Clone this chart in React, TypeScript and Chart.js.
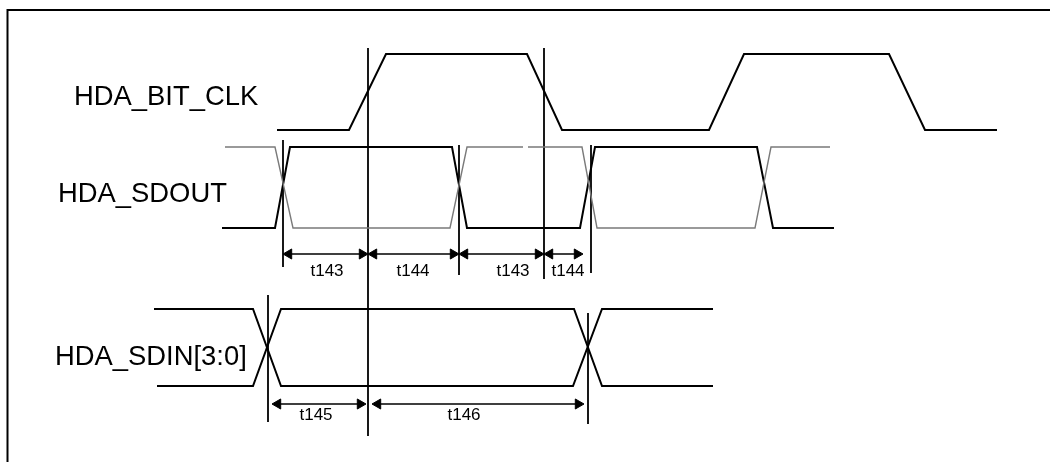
import React, { useEffect, useRef } from "react";
import { Chart, registerables } from "chart.js";

Chart.register(...registerables);

// Horizontal axis: time in diagram units; vertical axis: diagram rows.
const rowHigh = { clk: 54, sdout: 147, sdin: 309 };
const rowLow = { clk: 130, sdout: 228, sdin: 386 };

// HDA_BIT_CLK
const clkTimes = [277, 349, 386, 527, 562, 709, 744, 889, 925, 997];
const clkLevels = [0, 0, 1, 1, 0, 0, 1, 1, 0, 0];

// HDA_SDOUT (driven data, bold)
const sdoutTimes = [222, 275, 290, 452, 467, 580, 595, 757, 773, 834];
const sdoutLevels = [0, 0, 1, 1, 0, 0, 1, 1, 0, 0];

// HDA_SDOUT (complement, thin grey)
const sdoutBarTimes = [225, 275, 293, 450, 467, 523, 525.5, 528, 582, 597, 755, 771, 830];
const sdoutBarLevels = [1, 1, 0, 0, 1, 1, null, 1, 1, 0, 0, 1, 1];

// HDA_SDIN[3:0] (two crossing lines)
const sdinATimes = [154, 253, 281, 573, 602, 713];
const sdinALevels = [1, 1, 0, 0, 1, 1];
const sdinBTimes = [157, 253, 281, 574, 602, 713];
const sdinBLevels = [0, 0, 1, 1, 0, 0];

// Reference (vertical) lines
const markerX = [368, 544, 283, 459, 591, 268, 588];
const markerTop = [48, 48, 140, 145, 145, 295, 313];
const markerBottom = [436, 279, 267, 275, 273, 422, 424];

// Timing arrows
const arrowFrom = [283, 368, 459, 544, 272, 372];
const arrowTo = [368, 459, 544, 583, 366, 584];
const arrowY = [254, 254, 254, 254, 404, 404];

// Timing labels
const timingLabels = ["t143", "t144", "t143", "t144", "t145", "t146"];
const timingLabelX = [327, 413, 513, 568, 316, 464];
const timingLabelY = [276, 276, 276, 276, 420, 420];

// Signal names
const signalNames = ["HDA_BIT_CLK", "HDA_SDOUT", "HDA_SDIN[3:0]"];
const signalNameX = [74, 58, 55];
const signalNameY = [105, 202, 365];

// Frame (top and left edges)
const frameX = [1050, 7.5, 7.5];
const frameY = [10, 10, 462];

const HEAD_R = 5.8;

function wave(times: number[], levels: (number | null)[], hi: number, lo: number) {
  return times.map((t, i) => ({
    x: t,
    y: levels[i] === null ? null : levels[i] ? hi : lo,
  }));
}

export default function App() {
  const ref = useRef<HTMLCanvasElement | null>(null);

  useEffect(() => {
    document.body.style.margin = "0";
    const canvas = ref.current;
    if (!canvas) return;

    const markers: any[] = [];
    markerX.forEach((x, i) => {
      markers.push({ x, y: markerTop[i] });
      markers.push({ x, y: markerBottom[i] });
      markers.push({ x, y: null });
    });

    const shafts: any[] = [];
    const heads: any[] = [];
    const headRot: number[] = [];
    arrowFrom.forEach((a, i) => {
      const b = arrowTo[i];
      const y = arrowY[i];
      shafts.push({ x: a + HEAD_R, y });
      shafts.push({ x: b - HEAD_R, y });
      shafts.push({ x: b, y: null });
      heads.push({ x: a + HEAD_R, y });
      headRot.push(270);
      heads.push({ x: b - HEAD_R, y });
      headRot.push(90);
    });

    const lineDs = (data: any[], color: string, width: number) => ({
      type: "line" as const,
      data,
      borderColor: color,
      borderWidth: width,
      pointRadius: 0,
      pointHoverRadius: 0,
      showLine: true,
      spanGaps: false,
      tension: 0,
      clip: false as any,
      fill: false,
    });

    const textPlugin = {
      id: "timingText",
      afterDatasetsDraw(chart: any) {
        const ctx = chart.ctx;
        const xs = chart.scales.x;
        const ys = chart.scales.y;
        ctx.save();
        ctx.fillStyle = "#000";
        ctx.textBaseline = "alphabetic";
        ctx.font = '27.4px "Liberation Sans", Arial, sans-serif';
        ctx.textAlign = "left";
        signalNames.forEach((s, i) => {
          ctx.fillText(s, xs.getPixelForValue(signalNameX[i]), ys.getPixelForValue(signalNameY[i]));
        });
        ctx.font = '17px "Liberation Sans", Arial, sans-serif';
        ctx.textAlign = "center";
        timingLabels.forEach((s, i) => {
          ctx.fillText(s, xs.getPixelForValue(timingLabelX[i]), ys.getPixelForValue(timingLabelY[i]));
        });
        ctx.restore();
      },
    };

    const chart = new Chart(canvas, {
      type: "scatter",
      data: {
        datasets: [
          lineDs(frameX.map((x, i) => ({ x, y: frameY[i] })), "#000", 2),
          lineDs(wave(clkTimes, clkLevels, rowHigh.clk, rowLow.clk), "#000", 2),
          lineDs(wave(sdoutBarTimes, sdoutBarLevels, rowHigh.sdout, rowLow.sdout), "#7a7a7a", 1.4),
          lineDs(wave(sdoutTimes, sdoutLevels, rowHigh.sdout, rowLow.sdout), "#000", 2),
          lineDs(wave(sdinATimes, sdinALevels, rowHigh.sdin, rowLow.sdin), "#000", 2),
          lineDs(wave(sdinBTimes, sdinBLevels, rowHigh.sdin, rowLow.sdin), "#000", 2),
          lineDs(markers, "#000", 1.8),
          lineDs(shafts, "#000", 1.4),
          {
            type: "scatter" as const,
            data: heads,
            pointStyle: "triangle",
            pointRadius: HEAD_R,
            pointHoverRadius: HEAD_R,
            pointRotation: headRot,
            backgroundColor: "#000",
            borderColor: "#000",
            borderWidth: 1,
            showLine: false,
            clip: false as any,
          } as any,
        ],
      },
      options: {
        animation: false,
        responsive: false,
        maintainAspectRatio: false,
        layout: { padding: 0, autoPadding: false },
        plugins: {
          legend: { display: false },
          tooltip: { enabled: false },
          title: { display: false },
        },
        events: [],
        scales: {
          x: { type: "linear", min: 0, max: 1050, display: false },
          y: { type: "linear", min: 0, max: 462, reverse: true, display: false },
        },
      },
      plugins: [textPlugin],
    } as any);

    return () => chart.destroy();
  }, []);

  return (
    <div style={{ width: 1050, height: 462, background: "#fff" }}>
      <canvas ref={ref} width={1050} height={462} style={{ display: "block", width: 1050, height: 462 }} />
    </div>
  );
}
